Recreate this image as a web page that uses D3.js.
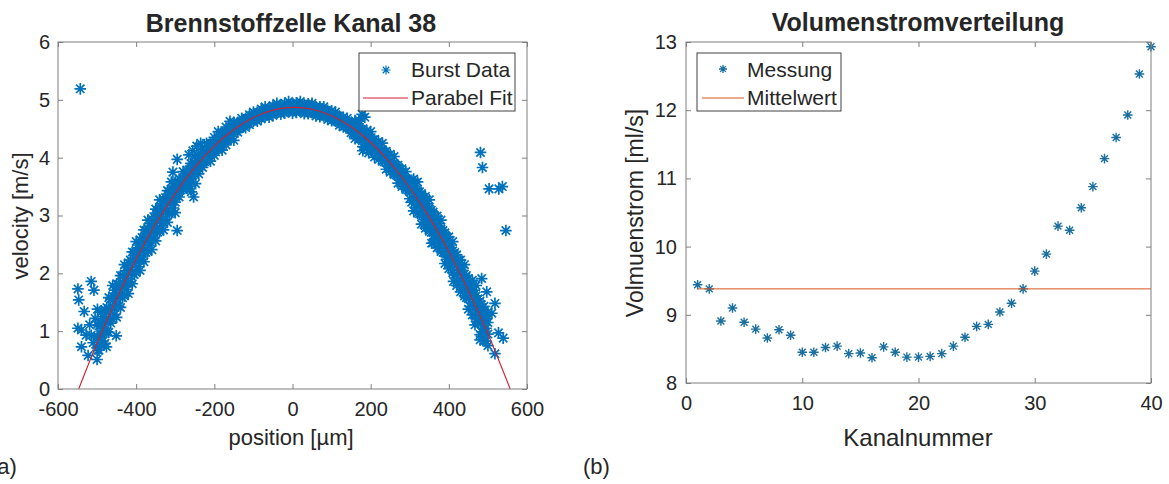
<!DOCTYPE html>
<html lang="de">
<head>
<meta charset="utf-8">
<script src="https://cdn.jsdelivr.net/npm/d3@7"></script>
<style>
  body { margin: 0; background: #fff; }
  svg text { font-family: "Liberation Sans", Arial, sans-serif; fill: #262626; }
  .tick line { stroke: #7f7f7f; }
</style>
</head>
<body>
<div id="chart"></div>
<script>
// ---------- data: left panel (Brennstoffzelle Kanal 38) ----------
// each column: [position, velocity values...]
const burstColumns = [
  [-500, 0.51, 0.71, 0.91, 1.11], [-490, 0.75, 0.95, 1.15, 1.33], [-480, 0.79, 0.99, 1.17, 1.37],
  [-470, 0.98, 1.18, 1.38, 1.58], [-460, 1.21, 1.41, 1.61, 1.79], [-450, 1.24, 1.44, 1.62, 1.82],
  [-440, 1.41, 1.61, 1.79, 1.96], [-430, 1.61, 1.81, 1.99, 2.15], [-420, 1.65, 1.83, 2.01, 2.18],
  [-410, 1.82, 2.02, 2.20, 2.37], [-400, 2.01, 2.21, 2.39, 2.55], [-390, 2.05, 2.23, 2.41, 2.58],
  [-380, 2.20, 2.40, 2.58, 2.75], [-370, 2.38, 2.58, 2.76, 2.92], [-360, 2.41, 2.59, 2.77, 2.94],
  [-350, 2.56, 2.76, 2.94, 3.11], [-340, 2.73, 2.93, 3.11, 3.27], [-330, 2.75, 2.93, 3.11, 3.28],
  [-320, 2.88, 3.08, 3.26, 3.43], [-310, 3.04, 3.24, 3.42, 3.58], [-300, 3.05, 3.23, 3.41, 3.58],
  [-290, 3.32, 3.49, 3.63], [-280, 3.45, 3.62, 3.76], [-270, 3.47, 3.63, 3.78],
  [-260, 3.59, 3.76, 3.90], [-250, 3.71, 3.88, 4.02], [-240, 3.72, 3.88, 4.03],
  [-230, 3.83, 4.00, 4.14], [-220, 3.94, 4.11, 4.25], [-210, 3.94, 4.10, 4.25],
  [-200, 4.04, 4.21, 4.35], [-190, 4.14, 4.31, 4.45], [-180, 4.13, 4.29, 4.44],
  [-170, 4.22, 4.39, 4.53], [-160, 4.32, 4.49, 4.63], [-150, 4.30, 4.46, 4.61],
  [-140, 4.44, 4.53, 4.61], [-130, 4.52, 4.61, 4.68], [-120, 4.52, 4.60, 4.68],
  [-110, 4.57, 4.66, 4.74], [-100, 4.63, 4.72, 4.79], [-90, 4.63, 4.71, 4.79],
  [-80, 4.67, 4.76, 4.84], [-70, 4.72, 4.81, 4.88], [-60, 4.70, 4.78, 4.86],
  [-50, 4.73, 4.82, 4.90], [-40, 4.78, 4.87, 4.94], [-30, 4.75, 4.83, 4.91],
  [-20, 4.77, 4.86, 4.94], [-10, 4.81, 4.90, 4.97], [0, 4.77, 4.85, 4.93],
  [10, 4.78, 4.87, 4.95], [20, 4.81, 4.90, 4.97], [30, 4.76, 4.84, 4.92],
  [40, 4.76, 4.85, 4.93], [50, 4.78, 4.87, 4.94], [60, 4.72, 4.80, 4.88],
  [70, 4.71, 4.80, 4.88], [80, 4.72, 4.81, 4.88], [90, 4.66, 4.74, 4.82],
  [100, 4.64, 4.73, 4.81], [110, 4.63, 4.72, 4.79], [120, 4.56, 4.64, 4.72],
  [130, 4.53, 4.62, 4.70], [140, 4.52, 4.61, 4.68], [150, 4.43, 4.51, 4.59],
  [160, 4.33, 4.50, 4.64], [170, 4.32, 4.49, 4.63], [180, 4.19, 4.35, 4.50],
  [190, 4.16, 4.33, 4.47], [200, 4.14, 4.31, 4.45], [210, 4.01, 4.17, 4.32],
  [220, 3.97, 4.14, 4.28], [230, 3.94, 4.11, 4.25], [240, 3.80, 3.96, 4.11],
  [250, 3.75, 3.92, 4.06], [260, 3.71, 3.88, 4.02], [270, 3.56, 3.72, 3.87],
  [280, 3.50, 3.67, 3.81], [290, 3.45, 3.62, 3.76], [300, 3.29, 3.45, 3.60],
  [310, 3.08, 3.28, 3.46, 3.63], [320, 3.04, 3.24, 3.42, 3.58], [330, 2.85, 3.03, 3.21, 3.38],
  [340, 2.78, 2.98, 3.16, 3.33], [350, 2.73, 2.93, 3.11, 3.27], [360, 2.53, 2.71, 2.89, 3.06],
  [370, 2.44, 2.64, 2.82, 2.99], [380, 2.38, 2.58, 2.76, 2.92], [390, 2.17, 2.35, 2.53, 2.70],
  [400, 2.08, 2.28, 2.46, 2.63], [410, 2.01, 2.21, 2.39, 2.55], [420, 1.79, 1.97, 2.15, 2.32],
  [430, 1.68, 1.88, 2.06, 2.23], [440, 1.61, 1.81, 1.99, 2.15], [450, 1.38, 1.56, 1.74, 1.91],
  [460, 1.28, 1.48, 1.68, 1.88], [470, 1.21, 1.41, 1.61, 1.79], [480, 0.94, 1.14, 1.32, 1.52],
  [490, 0.83, 1.03, 1.23, 1.43], [500, 0.75, 0.95, 1.15, 1.33]
];
// the in-between positions of the same burst measurement
const burstColumnsMid = [
  [-495, 0.67, 0.89, 1.09], [-485, 0.83, 1.05, 1.25], [-475, 0.99, 1.21, 1.41],
  [-465, 1.14, 1.36, 1.56], [-455, 1.29, 1.51, 1.71], [-445, 1.43, 1.63, 1.81],
  [-435, 1.58, 1.78, 1.96], [-425, 1.72, 1.92, 2.10], [-415, 1.85, 2.05, 2.23],
  [-405, 1.98, 2.18, 2.36], [-395, 2.11, 2.31, 2.49], [-385, 2.24, 2.44, 2.62],
  [-375, 2.36, 2.56, 2.74], [-365, 2.48, 2.68, 2.86], [-355, 2.60, 2.80, 2.98],
  [-345, 2.71, 2.91, 3.09], [-335, 2.82, 3.02, 3.20], [-325, 2.93, 3.13, 3.31],
  [-315, 3.03, 3.23, 3.41], [-305, 3.13, 3.33, 3.51],
  [-295, 3.34, 3.51], [-285, 3.44, 3.61], [-275, 3.53, 3.70], [-265, 3.62, 3.79],
  [-255, 3.70, 3.87], [-245, 3.78, 3.95], [-235, 3.86, 4.03], [-225, 3.93, 4.10],
  [-215, 4.01, 4.18], [-205, 4.08, 4.25], [-195, 4.14, 4.31], [-185, 4.20, 4.37],
  [-175, 4.26, 4.43], [-165, 4.32, 4.49], [-155, 4.37, 4.54],
  [-145, 4.46, 4.55], [-135, 4.51, 4.60], [-125, 4.55, 4.64], [-115, 4.59, 4.68],
  [-105, 4.63, 4.72], [-95, 4.66, 4.75], [-85, 4.69, 4.78], [-75, 4.72, 4.81],
  [-65, 4.74, 4.83], [-55, 4.76, 4.85], [-45, 4.78, 4.87], [-35, 4.79, 4.88],
  [-25, 4.81, 4.90], [-15, 4.81, 4.90], [-5, 4.82, 4.91], [5, 4.82, 4.91],
  [15, 4.82, 4.91], [25, 4.81, 4.90], [35, 4.81, 4.90], [45, 4.79, 4.88],
  [55, 4.78, 4.87], [65, 4.76, 4.85], [75, 4.74, 4.83], [85, 4.72, 4.81],
  [95, 4.69, 4.78], [105, 4.66, 4.75], [115, 4.63, 4.72], [125, 4.59, 4.68],
  [135, 4.55, 4.64], [145, 4.51, 4.60],
  [155, 4.42, 4.59], [165, 4.37, 4.54], [175, 4.32, 4.49], [185, 4.26, 4.43],
  [195, 4.20, 4.37], [205, 4.14, 4.31], [215, 4.08, 4.25], [225, 4.01, 4.18],
  [235, 3.93, 4.10], [245, 3.86, 4.03], [255, 3.78, 3.95], [265, 3.70, 3.87],
  [275, 3.62, 3.79], [285, 3.53, 3.70], [295, 3.44, 3.61],
  [305, 3.23, 3.43, 3.61], [315, 3.13, 3.33, 3.51], [325, 3.03, 3.23, 3.41],
  [335, 2.93, 3.13, 3.31], [345, 2.82, 3.02, 3.20], [355, 2.71, 2.91, 3.09],
  [365, 2.60, 2.80, 2.98], [375, 2.48, 2.68, 2.86], [385, 2.36, 2.56, 2.74],
  [395, 2.24, 2.44, 2.62], [405, 2.11, 2.31, 2.49], [415, 1.98, 2.18, 2.36],
  [425, 1.85, 2.05, 2.23], [435, 1.72, 1.92, 2.10], [445, 1.58, 1.78, 1.96],
  [455, 1.43, 1.65, 1.85], [465, 1.29, 1.51, 1.71], [475, 1.14, 1.36, 1.56],
  [485, 0.99, 1.21, 1.41], [495, 0.83, 1.05, 1.25]
];
// scattered single measurements
const burstExtra = [
  [-543, 5.19], [-295, 3.97], [-306, 3.75], [-259, 3.41], [-253, 3.32], [-295, 2.74],
  [-262, 3.50], [-248, 3.55], [-265, 4.05], [-255, 4.12], [-245, 4.20], [-235, 4.25],
  [-549, 1.73], [-515, 1.86], [-508, 1.71], [-547, 1.54], [-533, 1.34], [-499, 1.38],
  [-540, 1.02], [-519, 1.11], [-528, 0.93], [-540, 0.73], [-523, 0.58], [-498, 0.67],
  [-476, 0.73], [-451, 0.92], [-515, 0.93], [-549, 1.05], [-510, 0.80], [-505, 1.22],
  [170, 4.65], [185, 4.70], [178, 4.75], [180, 4.12], [195, 4.08],
  [356, 2.52], [412, 1.86], [467, 1.11], [480, 0.85], [497, 1.22], [510, 1.31],
  [497, 1.68], [518, 1.48], [527, 0.97], [539, 0.88], [518, 0.61], [484, 1.91],
  [481, 4.09], [486, 3.83], [503, 3.46], [528, 3.46], [537, 3.50], [546, 2.74]
];
const fitX = [-547, -500, -450, -400, -350, -300, -250, -200, -150, -100, -50, 0,
  50, 100, 150, 200, 250, 300, 350, 400, 450, 500, 557];
const fitV = [0, 0.794, 1.561, 2.248, 2.856, 3.383, 3.831, 4.198, 4.486, 4.694, 4.822, 4.870,
  4.838, 4.726, 4.534, 4.262, 3.911, 3.479, 2.968, 2.376, 1.705, 0.954, 0];
const posTicks = [-600, -400, -200, 0, 200, 400, 600];
const velTicks = [0, 1, 2, 3, 4, 5, 6];

// ---------- data: right panel (Volumenstromverteilung) ----------
const kanal = d3.range(1, 41);
const messung = [9.44, 9.38, 8.91, 9.10, 8.89, 8.79, 8.66, 8.78, 8.70, 8.45,
  8.45, 8.52, 8.54, 8.43, 8.44, 8.37, 8.53, 8.45, 8.38, 8.38,
  8.39, 8.43, 8.54, 8.67, 8.83, 8.86, 9.04, 9.17, 9.38, 9.64,
  9.89, 10.30, 10.24, 10.57, 10.88, 11.29, 11.60, 11.93, 12.53, 12.93];
const mittelwert = 9.38;
const kanalTicks = [0, 10, 20, 30, 40];
const stromTicks = [8, 9, 10, 11, 12, 13];

const blue = "#0072BD", red = "#d11f32", orange = "#D95319", frame = "#7f7f7f";

const svg = d3.select("#chart").append("svg")
  .attr("width", 1169).attr("height", 484);

const star = r => {
  const q = r * 0.72;
  return `M${-r},0H${r}M0,${-r}V${r}M${-q},${-q}L${q},${q}M${-q},${q}L${q},${-q}`;
};

// plain integer labels with a hyphen minus, like the original
const fmt = d => String(d);

function drawAxes(box, x, y, xt, yt, pad) {
  const g = svg.append("g");
  g.append("g").attr("transform", `translate(0,${box.bottom})`)
    .call(d3.axisBottom(x).tickValues(xt).tickSize(-5).tickPadding(13).tickFormat(fmt))
    .call(a => a.select(".domain").remove());
  g.append("g").attr("transform", `translate(0,${box.top})`)
    .call(d3.axisTop(x).tickValues(xt).tickSize(-5).tickFormat(""))
    .call(a => a.select(".domain").remove());
  g.append("g").attr("transform", `translate(${box.left},0)`)
    .call(d3.axisLeft(y).tickValues(yt).tickSize(-5).tickPadding(pad).tickFormat(fmt))
    .call(a => a.select(".domain").remove());
  g.append("g").attr("transform", `translate(${box.right},0)`)
    .call(d3.axisRight(y).tickValues(yt).tickSize(-5).tickFormat(""))
    .call(a => a.select(".domain").remove());
  g.selectAll(".tick text").style("font-size", "20px").attr("fill", "#262626");
  g.append("rect")
    .attr("x", box.left).attr("y", box.top)
    .attr("width", box.right - box.left).attr("height", box.bottom - box.top)
    .attr("fill", "none").attr("stroke", frame);
}

// ---------- left panel ----------
const boxA = { left: 58, right: 527, top: 42, bottom: 389 };
const xA = d3.scaleLinear().domain([-600, 600]).range([boxA.left, boxA.right]);
const yA = d3.scaleLinear().domain([0, 6]).range([boxA.bottom, boxA.top]);

const burst = burstColumns.concat(burstColumnsMid)
  .flatMap(c => c.slice(1).map(v => [c[0], v]))
  .concat(burstExtra);

svg.append("g").selectAll("path")
  .data(burst)
  .join("path")
  .attr("transform", d => `translate(${xA(d[0])},${yA(d[1])})`)
  .attr("d", star(5.8))
  .attr("stroke", blue).attr("stroke-width", 1.7).attr("fill", "none");

svg.append("path")
  .datum(fitX.map((p, i) => [p, fitV[i]]))
  .attr("d", d3.line().x(d => xA(d[0])).y(d => yA(d[1])).curve(d3.curveNatural))
  .attr("fill", "none").attr("stroke", red).attr("stroke-width", 1.1);

drawAxes(boxA, xA, yA, posTicks, velTicks, 8);

svg.append("text").attr("x", 291).attr("y", 32).attr("text-anchor", "middle")
  .style("font-size", "25px").style("font-weight", "bold").attr("fill", "#000")
  .text("Brennstoffzelle Kanal 38");
svg.append("text").attr("x", 291).attr("y", 445).attr("text-anchor", "middle")
  .style("font-size", "22px").text("position [µm]");
svg.append("text").attr("transform", "translate(28,216) rotate(-90)")
  .attr("text-anchor", "middle").style("font-size", "22px").text("velocity [m/s]");

// legend A
const legA = svg.append("g");
legA.append("rect").attr("x", 359).attr("y", 53).attr("width", 156).attr("height", 58)
  .attr("fill", "#fff").attr("stroke", "#404040");
legA.append("path").attr("transform", "translate(386,70)").attr("d", star(4.5))
  .attr("stroke", blue).attr("stroke-width", 1.2).attr("fill", "none");
legA.append("line").attr("x1", 363).attr("x2", 408).attr("y1", 98).attr("y2", 98)
  .attr("stroke", red).attr("stroke-width", 1.1);
legA.append("text").attr("x", 411).attr("y", 77).style("font-size", "21px").text("Burst Data");
legA.append("text").attr("x", 411).attr("y", 105).style("font-size", "21px").text("Parabel Fit");

// ---------- right panel ----------
const boxB = { left: 686, right: 1151, top: 42, bottom: 383 };
const xB = d3.scaleLinear().domain([0, 40]).range([boxB.left, boxB.right]);
const yB = d3.scaleLinear().domain([8, 13]).range([boxB.bottom, boxB.top]);

svg.append("g").selectAll("path")
  .data(kanal.map((k, i) => [k, messung[i]]))
  .join("path")
  .attr("transform", d => `translate(${xB(d[0])},${yB(d[1])})`)
  .attr("d", star(4.8))
  .attr("stroke", "#1a6f9e").attr("stroke-width", 1.4).attr("fill", "none");

svg.append("line")
  .attr("x1", xB(1)).attr("x2", xB(40))
  .attr("y1", yB(mittelwert)).attr("y2", yB(mittelwert))
  .attr("stroke", orange).attr("stroke-width", 1);

drawAxes(boxB, xB, yB, kanalTicks, stromTicks, 9);

svg.append("text").attr("x", 918).attr("y", 31).attr("text-anchor", "middle")
  .style("font-size", "25px").style("font-weight", "bold").attr("fill", "#000")
  .text("Volumenstromverteilung");
svg.append("text").attr("x", 918).attr("y", 446).attr("text-anchor", "middle")
  .style("font-size", "24px").text("Kanalnummer");
svg.append("text").attr("transform", "translate(643,213) rotate(-90)")
  .attr("text-anchor", "middle").style("font-size", "23px").text("Volmuenstrom [ml/s]");

// legend B
const legB = svg.append("g");
legB.append("rect").attr("x", 697).attr("y", 53).attr("width", 144).attr("height", 58)
  .attr("fill", "#fff").attr("stroke", "#404040");
legB.append("path").attr("transform", "translate(723,69)").attr("d", star(4))
  .attr("stroke", "#1a6f9e").attr("stroke-width", 1.3).attr("fill", "none");
legB.append("line").attr("x1", 702).attr("x2", 744).attr("y1", 98).attr("y2", 98)
  .attr("stroke", orange).attr("stroke-width", 1);
legB.append("text").attr("x", 747).attr("y", 77).style("font-size", "21px").text("Messung");
legB.append("text").attr("x", 747).attr("y", 105).style("font-size", "21px").text("Mittelwert");

// panel labels (the first one is clipped at the page edge, as in the original figure)
svg.append("text").attr("x", -10).attr("y", 474).style("font-size", "22px").text("(a)");
svg.append("text").attr("x", 583).attr("y", 474).style("font-size", "22px").text("(b)");
</script>
</body>
</html>
